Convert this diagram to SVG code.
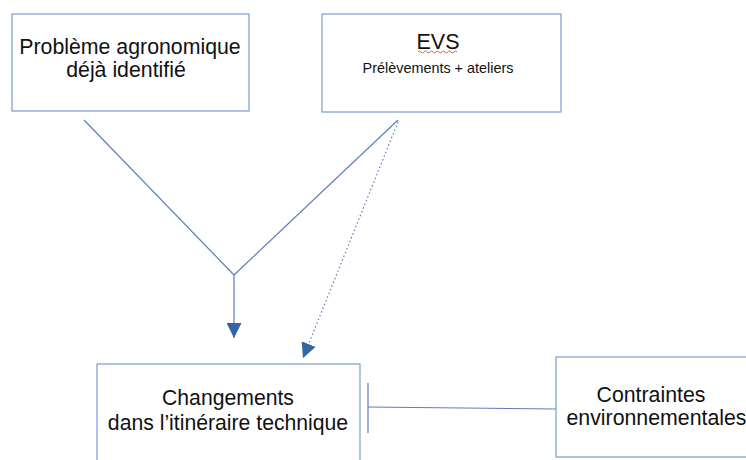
<svg xmlns="http://www.w3.org/2000/svg" width="746" height="460" viewBox="0 0 746 460">
<style>
.box{fill:#fff;stroke:#7a9bcf;stroke-width:1.2}
.t{font-family:"Liberation Sans",Arial,sans-serif;fill:#111;text-anchor:middle}
.ln{stroke:#5b7fb8;stroke-width:1.2;fill:none}
</style>
<defs>
<marker id="ah2" viewBox="0 0 10 10" refX="10" refY="5" markerWidth="15" markerHeight="15" markerUnits="userSpaceOnUse" orient="auto"><path d="M0,0 L10,5 L0,10 Z" fill="#3465a4"/></marker>
</defs>
<rect width="746" height="460" fill="#fff"/>
<g id="connectors">
<line class="ln" x1="84" y1="120" x2="234" y2="275"/>
<line class="ln" x1="398" y1="120" x2="234" y2="275"/>
<line class="ln" x1="234" y1="275" x2="234" y2="338" marker-end="url(#ah2)"/>
<line class="ln" x1="398" y1="122" x2="303" y2="358" stroke-dasharray="1.5,2.5" marker-end="url(#ah2)"/>
<line class="ln" x1="368" y1="383" x2="368" y2="433"/>
<line class="ln" x1="368" y1="407" x2="556" y2="409"/>
</g>
<g id="n1">
<rect class="box" x="12" y="14" width="237" height="97"/>
<text class="t" x="130" y="54" font-size="21.3">Problème agronomique</text>
<text class="t" x="126" y="77" font-size="21.3">déjà identifié</text>
</g>
<g id="n2">
<rect class="box" x="322" y="14" width="239" height="98"/>
<text class="t" x="438" y="49" font-size="21.5">EVS</text>
<path d="M418,52 q1.5,-2 3,0 t3,0 t3,0 t3,0 t3,0 t3,0 t3,0 t3,0 t3,0 t3,0 t3,0 t3,0 t3,0" fill="none" stroke="#e03030" stroke-width="0.8"/>
<text class="t" x="438" y="73" font-size="14.4">Prélèvements + ateliers</text>
</g>
<g id="n3">
<rect class="box" x="97" y="364" width="263" height="110"/>
<text class="t" x="228" y="405" font-size="21.2">Changements</text>
<text class="t" x="228" y="430" font-size="21.2">dans l’itinéraire technique</text>
</g>
<g id="n4">
<rect class="box" x="556" y="357" width="200" height="100"/>
<text class="t" x="651" y="402" font-size="21.3">Contraintes</text>
<text class="t" x="656.5" y="425" font-size="21.3">environnementales</text>
</g>
</svg>
